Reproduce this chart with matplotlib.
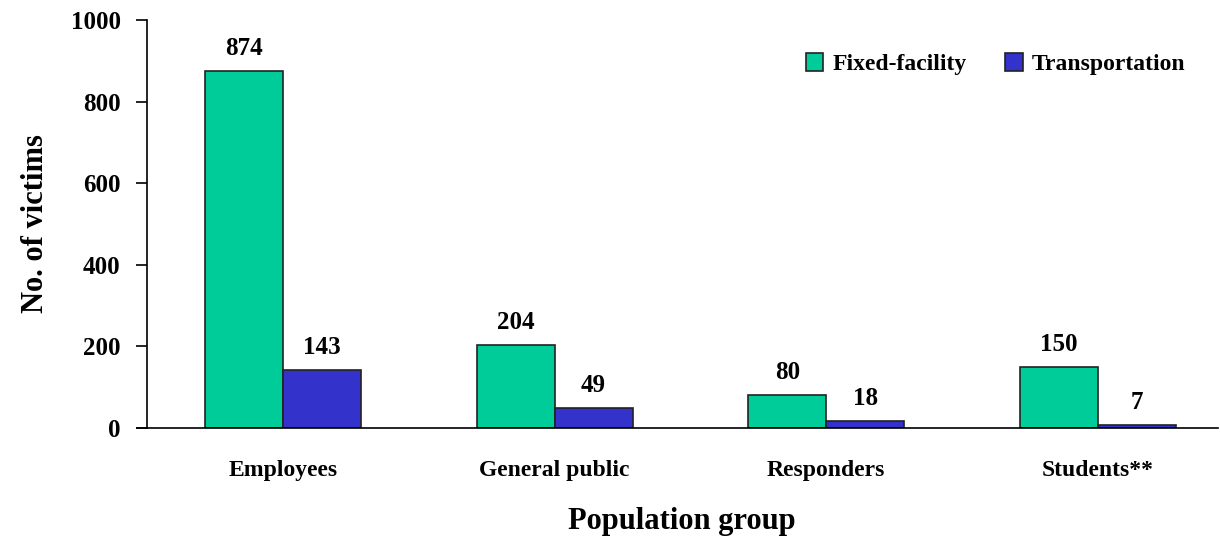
import numpy as np
import matplotlib
matplotlib.use('Agg')
import matplotlib.pyplot as plt

groups = ["Employees", "General public", "Responders", "Students**"]
fixed_facility = [874, 204, 80, 150]
transportation = [143, 49, 18, 7]
series_names = ["Fixed-facility", "Transportation"]
yticks = [0, 200, 400, 600, 800, 1000]

plt.rcParams['font.family'] = ['Liberation Serif', 'DejaVu Serif']
plt.rcParams['font.weight'] = 'bold'

fig = plt.figure(figsize=(12.2, 5.4), dpi=100)
ax = fig.add_axes([0.1205, 0.2074, 0.8775, 0.7556])

x = np.arange(len(groups))
w = 0.287
b1 = ax.bar(x - w/2, fixed_facility, w, color='#00CC99', edgecolor='#222222', linewidth=1.2, label=series_names[0])
b2 = ax.bar(x + w/2, transportation, w, color='#3333CC', edgecolor='#222222', linewidth=1.2, label=series_names[1])

for bars, vals in [(b1, fixed_facility), (b2, transportation)]:
    for r, v in zip(bars, vals):
        ax.annotate(str(v), (r.get_x() + r.get_width()/2, v), xytext=(0, 8),
                    textcoords='offset points', ha='center', va='bottom',
                    fontsize=18, fontweight='bold')

ax.set_xlim(-0.5, 3.44)
ax.set_ylim(0, 1000)
ax.set_yticks(yticks)
ax.set_xticks(x)
ax.set_xticklabels(groups, fontsize=17, fontweight='bold')
ax.tick_params(axis='x', length=0, pad=23)
ax.tick_params(axis='y', length=8, width=1.2, labelsize=18, pad=11)
for t in ax.get_yticklabels():
    t.set_fontweight('bold')

ax.spines['top'].set_visible(False)
ax.spines['right'].set_visible(False)
ax.spines['left'].set_linewidth(1.2)
ax.spines['bottom'].set_linewidth(1.2)
# bottom axis line sticks out a little past the y axis
ax.plot([-0.009, 0], [0, 0], transform=ax.transAxes, color='black', lw=1.2, clip_on=False)

ax.set_xlabel("Population group", fontsize=22, fontweight='bold', labelpad=19)
ax.set_ylabel("No. of victims", fontsize=22, fontweight='bold', labelpad=15)

ax.legend(loc='upper right', bbox_to_anchor=(0.99, 0.97), frameon=False, ncol=2,
          handlelength=0.75, handleheight=0.75, handletextpad=0.4,
          columnspacing=1.6, prop={'weight': 'bold', 'size': 17})

fig.savefig('out.png', dpi=100)
